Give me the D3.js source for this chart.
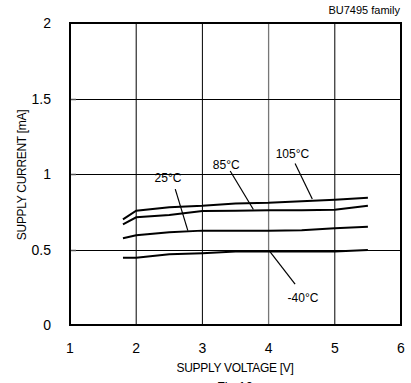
<!DOCTYPE html>
<html>
<head>
<meta charset="utf-8">
<script src="https://cdn.jsdelivr.net/npm/d3@7"></script>
<style>
  body { margin: 0; background: #fff; }
  text { font-family: "Liberation Sans", Arial, sans-serif; fill: #000; }
</style>
</head>
<body>
<div id="chart"></div>
<script>
// x ticks / y ticks
var xTicks = [1, 2, 3, 4, 5, 6];
var yTicks = [0, 0.5, 1, 1.5, 2];
var yTickLabels = ["0", "0.5", "1", "1.5", "2"];

// supply voltage points
var voltage = [1.8, 2.0, 2.5, 3.0, 3.5, 4.0, 4.5, 5.0, 5.5];

// supply current per temperature [mA]
var cur105 = [0.70, 0.757, 0.78, 0.79, 0.805, 0.81, 0.82, 0.83, 0.843];
var cur85 = [0.667, 0.713, 0.728, 0.755, 0.757, 0.76, 0.76, 0.763, 0.79];
var cur25 = [0.574, 0.595, 0.614, 0.625, 0.625, 0.625, 0.628, 0.64, 0.651];
var curM40 = [0.446, 0.446, 0.468, 0.475, 0.486, 0.486, 0.486, 0.486, 0.497];

// annotation: label, label pos (V, mA), leader from -> to (V, mA)
var labels = ["25\u00b0C", "85\u00b0C", "105\u00b0C", "-40\u00b0C"];
var labelPos = [[2.48, 0.95], [3.36, 1.035], [4.36, 1.107], [4.52, 0.155]];
var leaderFrom = [[2.59, 0.90], [3.42, 1.02], [4.40, 1.07], [4.02, 0.486]];
var leaderTo = [[2.78, 0.625], [3.77, 0.765], [4.66, 0.835], [4.40, 0.27]];

var W = 411, H = 383;
var plot = { left: 70, right: 401, top: 23, bottom: 325 };

var svg = d3.select("#chart").append("svg")
    .attr("width", W)
    .attr("height", H);

var x = d3.scaleLinear().domain([1, 6]).range([plot.left, plot.right]);
var y = d3.scaleLinear().domain([0, 2]).range([plot.bottom, plot.top]);

// grid
svg.selectAll(".vgrid")
    .data(xTicks.slice(1, -1))
    .enter().append("line")
    .attr("x1", function(d) { return x(d); })
    .attr("x2", function(d) { return x(d); })
    .attr("y1", plot.top)
    .attr("y2", plot.bottom)
    .style("stroke", function(d) { return d == 4 ? "#777" : "#000"; })
    .style("stroke-width", function(d) { return d == 4 ? 1.3 : 1; });

svg.selectAll(".hgrid")
    .data(yTicks.slice(1, -1))
    .enter().append("line")
    .attr("x1", plot.left)
    .attr("x2", plot.right)
    .attr("y1", function(d) { return Math.round(y(d)) + 0.5; })
    .attr("y2", function(d) { return Math.round(y(d)) + 0.5; })
    .style("stroke", "#000")
    .style("stroke-width", 1);

// small inner ticks
svg.selectAll(".ytick")
    .data(yTicks.slice(1, -1))
    .enter().append("line")
    .attr("x1", plot.left)
    .attr("x2", plot.left + 6)
    .attr("y1", function(d) { return Math.round(y(d)) + 0.5; })
    .attr("y2", function(d) { return Math.round(y(d)) + 0.5; })
    .style("stroke", "#555")
    .style("stroke-width", 1.5);

// frame
svg.append("rect")
    .attr("x", plot.left)
    .attr("y", plot.top)
    .attr("width", plot.right - plot.left)
    .attr("height", plot.bottom - plot.top)
    .style("fill", "none")
    .style("stroke", "#000")
    .style("stroke-width", 2);

// tick labels
svg.selectAll(".xlab")
    .data(xTicks)
    .enter().append("text")
    .attr("x", function(d) { return x(d); })
    .attr("y", 353)
    .attr("text-anchor", "middle")
    .style("font-size", "14px")
    .text(String);

svg.selectAll(".ylab")
    .data(yTicks)
    .enter().append("text")
    .attr("x", 51)
    .attr("y", function(d) { return y(d) + 5; })
    .attr("text-anchor", "end")
    .style("font-size", "14px")
    .text(function(d, i) { return yTickLabels[i]; });

// axis titles
svg.append("text")
    .attr("x", 235)
    .attr("y", 372)
    .attr("text-anchor", "middle")
    .style("font-size", "12px")
    .style("letter-spacing", "-0.3px")
    .text("SUPPLY VOLTAGE [V]");

svg.append("text")
    .attr("transform", "translate(26,175) rotate(-90)")
    .attr("text-anchor", "middle")
    .style("font-size", "12px")
    .style("letter-spacing", "-0.3px")
    .text("SUPPLY CURRENT [mA]");

svg.append("text")
    .attr("x", 400)
    .attr("y", 14)
    .attr("text-anchor", "end")
    .style("font-size", "11px")
    .text("BU7495 family");

svg.append("text")
    .attr("x", 235)
    .attr("y", 391)
    .attr("text-anchor", "middle")
    .style("font-size", "13px")
    .text("Fig.10");

// curves
var series = [cur105, cur85, cur25, curM40];
var line = d3.line()
    .x(function(d, i) { return x(voltage[i]); })
    .y(function(d) { return y(d); });

svg.selectAll(".curve")
    .data(series)
    .enter().append("path")
    .attr("d", line)
    .style("fill", "none")
    .style("stroke", "#000")
    .style("stroke-width", 2);

// annotations
svg.selectAll(".leader")
    .data(labels)
    .enter().append("line")
    .attr("x1", function(d, i) { return x(leaderFrom[i][0]); })
    .attr("y1", function(d, i) { return y(leaderFrom[i][1]); })
    .attr("x2", function(d, i) { return x(leaderTo[i][0]); })
    .attr("y2", function(d, i) { return y(leaderTo[i][1]); })
    .style("stroke", "#000")
    .style("stroke-width", 1.2);

svg.selectAll(".ann")
    .data(labels)
    .enter().append("text")
    .attr("x", function(d, i) { return x(labelPos[i][0]); })
    .attr("y", function(d, i) { return y(labelPos[i][1]); })
    .attr("text-anchor", "middle")
    .style("font-size", "12px")
    .text(String);
</script>
</body>
</html>
